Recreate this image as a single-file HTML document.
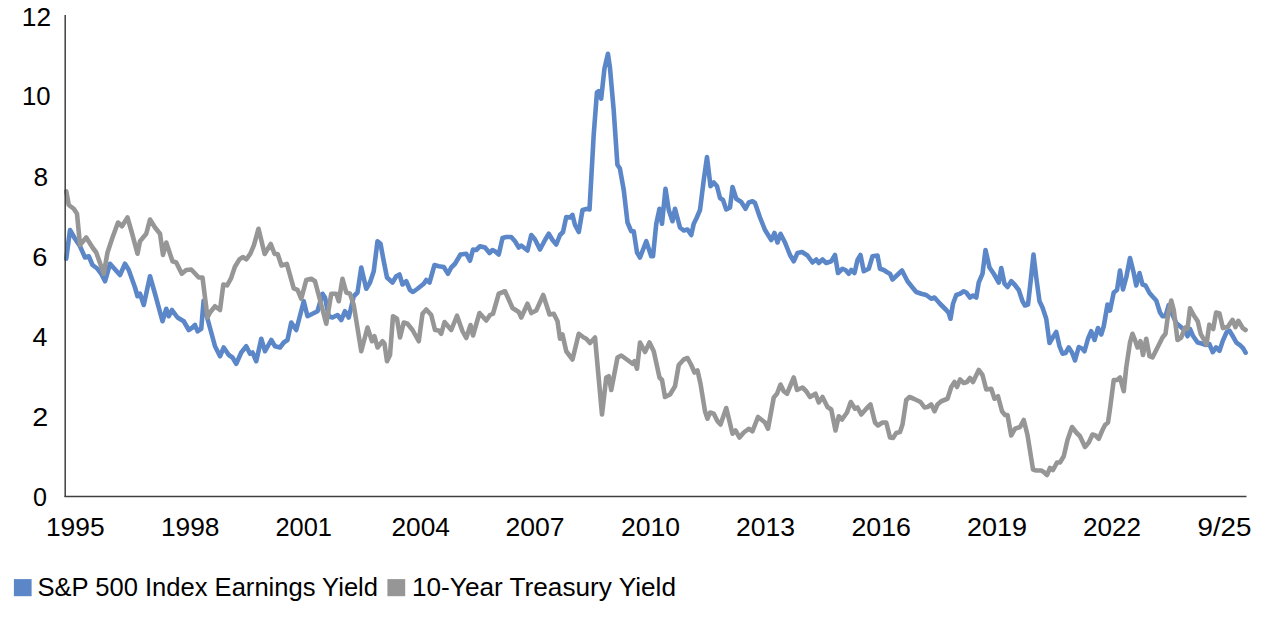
<!DOCTYPE html>
<html><head><meta charset="utf-8"><style>
html,body{margin:0;padding:0;background:#fff;}
svg{display:block;}
text{font-family:"Liberation Sans",sans-serif;font-size:25px;fill:#000;}
</style></head><body>
<svg width="1280" height="621" viewBox="0 0 1280 621">
<rect width="1280" height="621" fill="#fff"/>
<text x="21.87" y="25.50" textLength="29.24" lengthAdjust="spacingAndGlyphs">12</text><text x="21.94" y="105.00" textLength="28.58" lengthAdjust="spacingAndGlyphs">10</text><text x="33.46" y="185.50" textLength="14.58" lengthAdjust="spacingAndGlyphs">8</text><text x="32.39" y="265.50" textLength="15.16" lengthAdjust="spacingAndGlyphs">6</text><text x="32.54" y="345.50" textLength="14.93" lengthAdjust="spacingAndGlyphs">4</text><text x="32.23" y="426.00" textLength="16.01" lengthAdjust="spacingAndGlyphs">2</text><text x="33.00" y="506.00" textLength="13.99" lengthAdjust="spacingAndGlyphs">0</text><text x="45.94" y="536.00" textLength="58.60" lengthAdjust="spacingAndGlyphs">1995</text><text x="160.95" y="536.00" textLength="58.58" lengthAdjust="spacingAndGlyphs">1998</text><text x="275.48" y="536.00" textLength="56.55" lengthAdjust="spacingAndGlyphs">2001</text><text x="391.50" y="536.00" textLength="58.51" lengthAdjust="spacingAndGlyphs">2004</text><text x="505.47" y="536.00" textLength="59.05" lengthAdjust="spacingAndGlyphs">2007</text><text x="620.99" y="536.00" textLength="59.03" lengthAdjust="spacingAndGlyphs">2010</text><text x="735.98" y="536.00" textLength="59.03" lengthAdjust="spacingAndGlyphs">2013</text><text x="851.46" y="536.00" textLength="59.57" lengthAdjust="spacingAndGlyphs">2016</text><text x="966.97" y="536.00" textLength="60.07" lengthAdjust="spacingAndGlyphs">2019</text><text x="1082.99" y="536.00" textLength="58.03" lengthAdjust="spacingAndGlyphs">2022</text><text x="1197.45" y="536.00" textLength="54.08" lengthAdjust="spacingAndGlyphs">9/25</text><text x="37.49" y="596.00" textLength="340.51" lengthAdjust="spacingAndGlyphs">S&amp;P 500 Index Earnings Yield</text><text x="411.99" y="596.00" textLength="264.02" lengthAdjust="spacingAndGlyphs">10-Year Treasury Yield</text>
<path d="M66.25,258.75 L70.00,230.00 L75.00,238.75 L80.00,246.25 L85.00,257.50 L88.75,256.25 L92.50,265.00 L97.50,268.75 L101.25,273.75 L105.00,281.25 L110.00,263.75 L120.00,275.00 L125.00,263.75 L128.75,270.00 L135.00,287.50 L137.50,296.25 L140.00,293.75 L143.75,305.00 L150.00,276.25 L155.00,293.75 L162.50,321.25 L166.25,308.75 L168.75,316.25 L172.00,310.00 L177.50,317.50 L183.75,321.25 L188.75,330.00 L192.50,327.50 L195.00,325.00 L197.50,331.25 L201.25,328.75 L203.60,300.80 L207.50,318.75 L211.25,332.50 L215.00,346.25 L220.00,356.25 L223.75,347.50 L228.75,355.00 L232.50,357.50 L236.25,363.75 L241.25,352.50 L246.25,346.25 L250.00,353.75 L252.50,352.50 L256.25,361.25 L261.25,338.75 L265.00,351.25 L271.25,340.00 L275.00,346.25 L280.00,347.50 L283.75,342.50 L287.50,340.00 L291.25,322.50 L296.25,330.00 L303.75,301.25 L307.50,316.25 L312.50,313.75 L317.50,311.25 L322.50,293.75 L325.00,297.50 L328.75,316.25 L332.50,317.50 L337.50,315.00 L341.25,320.00 L345.00,311.25 L348.75,317.50 L353.75,296.25 L357.50,292.50 L361.25,267.50 L366.25,288.75 L370.00,282.50 L373.75,271.25 L377.50,241.25 L380.50,243.75 L383.75,261.25 L387.00,277.50 L392.50,282.50 L396.25,276.25 L399.50,274.50 L402.50,284.50 L406.25,281.25 L410.00,290.00 L413.00,292.00 L417.50,288.75 L423.75,283.75 L426.25,280.00 L429.50,282.50 L434.50,265.00 L438.75,266.25 L443.75,267.00 L448.00,273.75 L451.25,267.50 L455.00,263.75 L460.50,254.50 L466.25,253.75 L470.00,260.75 L473.00,249.50 L476.25,250.00 L480.00,246.25 L485.00,247.50 L489.50,253.00 L492.50,250.00 L495.00,251.25 L498.75,254.50 L502.50,238.00 L506.25,237.00 L511.25,237.00 L515.00,241.25 L518.75,247.50 L521.25,245.50 L527.50,250.50 L531.25,235.00 L535.00,239.50 L540.00,249.50 L545.00,240.00 L548.75,233.75 L552.50,240.00 L556.25,244.50 L560.00,235.00 L563.00,232.00 L566.25,217.00 L570.00,217.50 L572.50,215.00 L575.00,225.00 L578.75,232.00 L582.50,210.00 L587.50,208.75 L589.50,209.50 L593.70,134.86 L596.94,92.42 L598.69,91.17 L601.19,98.66 L604.43,68.71 L607.93,53.73 L609.93,67.46 L613.67,109.90 L617.41,164.81 L619.91,168.56 L623.75,190.00 L627.50,222.50 L631.25,231.25 L633.75,231.25 L637.00,252.50 L640.00,257.50 L646.25,241.25 L651.25,256.25 L653.00,256.25 L656.25,223.75 L659.50,208.75 L662.00,223.75 L665.50,188.75 L668.75,210.00 L672.50,221.25 L675.00,208.75 L680.00,227.50 L683.75,230.50 L687.50,229.50 L687.50,229.50 L691.25,235.00 L693.75,223.75 L696.25,218.75 L700.00,210.00 L703.75,180.00 L707.00,157.00 L710.50,186.25 L713.75,182.50 L717.00,186.25 L720.00,198.00 L723.00,200.00 L726.25,209.50 L730.00,207.50 L732.50,187.00 L736.25,198.75 L741.25,202.00 L745.50,208.75 L748.75,202.50 L752.50,201.25 L755.00,203.00 L760.00,217.50 L765.00,230.00 L771.25,240.00 L774.50,233.00 L777.50,242.50 L780.50,233.75 L785.00,242.50 L790.00,255.00 L793.75,261.25 L797.50,253.00 L802.00,252.00 L807.50,255.50 L812.50,262.50 L816.25,259.50 L818.75,263.00 L822.50,259.50 L826.25,263.00 L831.25,261.25 L835.00,255.00 L838.00,273.00 L842.50,268.75 L845.50,270.00 L848.75,273.75 L851.25,270.00 L854.50,273.00 L857.50,260.00 L860.50,255.00 L863.75,271.25 L868.75,268.75 L872.50,256.25 L877.50,255.50 L880.00,268.75 L883.75,270.00 L887.50,272.50 L890.00,273.75 L892.50,279.50 L902.00,270.50 L907.50,281.25 L912.50,287.50 L916.25,292.00 L921.25,293.75 L926.25,295.00 L931.25,298.75 L934.50,297.50 L940.00,303.75 L946.25,310.00 L948.75,313.00 L950.50,318.75 L953.00,303.75 L956.25,295.00 L960.00,293.75 L963.75,291.25 L966.25,292.50 L970.00,297.50 L973.00,295.50 L976.25,297.50 L978.75,282.50 L982.50,273.75 L985.50,250.00 L989.50,267.50 L993.75,273.75 L998.75,282.50 L1001.25,268.00 L1004.50,283.75 L1007.50,287.00 L1011.25,281.25 L1014.50,284.50 L1018.75,290.00 L1022.50,301.25 L1025.00,305.50 L1028.00,304.50 L1030.50,282.50 L1033.50,254.50 L1036.25,277.50 L1039.50,301.25 L1042.50,307.50 L1046.25,318.75 L1049.50,343.00 L1053.00,337.00 L1056.25,332.00 L1059.50,346.25 L1062.50,353.75 L1065.50,353.00 L1068.75,347.50 L1072.00,352.50 L1075.00,360.50 L1078.75,347.00 L1082.50,348.75 L1084.50,351.25 L1088.00,338.75 L1091.25,331.25 L1094.50,340.00 L1098.00,328.00 L1101.25,334.50 L1103.75,326.25 L1107.50,304.50 L1110.00,310.50 L1113.75,292.50 L1117.00,290.00 L1120.00,270.50 L1123.00,289.50 L1126.25,277.50 L1130.00,258.00 L1133.75,273.00 L1136.25,285.50 L1139.50,273.00 L1142.50,284.50 L1145.50,285.50 L1149.50,293.00 L1153.00,297.00 L1156.25,300.50 L1160.00,312.50 L1162.50,316.25 L1165.50,316.25 L1168.75,305.00 L1172.00,313.75 L1176.25,323.00 L1180.00,326.25 L1183.75,329.50 L1187.50,336.25 L1190.00,329.01 L1192.90,335.78 L1197.74,342.55 L1201.61,343.52 L1205.47,344.97 L1209.34,344.00 L1212.73,352.22 L1216.11,347.39 L1219.50,350.77 L1222.88,340.62 L1226.75,331.91 L1229.65,330.95 L1232.55,335.78 L1236.42,342.55 L1240.29,345.45 L1243.19,348.36 L1245.61,352.71" fill="none" stroke="#5B87C9" stroke-width="4.6" stroke-linejoin="round" stroke-linecap="round"/>
<path d="M66.25,191.25 L68.75,205.00 L73.75,208.75 L77.00,213.75 L80.00,245.00 L86.25,237.50 L92.50,247.50 L96.25,252.50 L103.75,273.75 L107.50,252.50 L112.50,237.50 L118.00,222.50 L122.00,226.25 L127.50,217.50 L132.50,235.00 L137.50,253.75 L140.00,241.25 L146.25,233.75 L150.00,219.50 L155.00,227.50 L160.00,233.75 L163.00,255.00 L166.25,242.50 L172.50,261.25 L176.25,262.50 L181.75,273.75 L186.25,270.00 L191.25,269.50 L198.75,277.50 L202.50,277.50 L207.50,317.50 L210.00,312.50 L215.00,306.25 L220.00,310.00 L223.32,284.60 L227.14,285.36 L230.97,278.47 L234.80,266.99 L239.39,259.34 L242.76,257.04 L246.28,259.34 L250.41,253.68 L253.93,245.10 L258.52,228.73 L264.65,253.98 L270.77,244.03 L274.60,253.98 L277.66,253.98 L281.48,265.46 L286.84,263.93 L293.73,288.42 L297.56,289.95 L301.25,298.75 L306.25,280.00 L311.25,278.75 L315.00,281.25 L320.00,300.00 L326.25,323.75 L331.25,293.75 L336.25,293.75 L338.75,301.25 L342.50,278.75 L346.25,292.50 L350.00,293.75 L353.75,305.00 L361.25,351.25 L367.50,327.50 L372.00,341.25 L374.50,336.25 L377.50,347.50 L382.50,341.25 L384.50,343.75 L387.00,361.25 L390.00,355.00 L393.00,316.25 L397.00,318.75 L400.00,337.50 L403.75,322.50 L407.50,323.75 L412.50,330.00 L418.75,341.25 L422.50,313.75 L426.25,309.50 L431.25,315.00 L435.00,330.00 L438.75,330.50 L441.25,333.75 L444.50,322.00 L451.25,330.00 L457.00,315.75 L462.50,331.25 L466.25,338.00 L470.50,325.00 L473.00,335.50 L479.50,313.00 L486.25,320.50 L490.00,315.00 L493.00,313.75 L498.75,293.75 L505.00,291.25 L512.50,308.00 L518.75,312.00 L521.25,317.50 L527.50,303.75 L531.25,313.00 L536.25,310.50 L543.25,295.00 L549.50,314.50 L553.75,313.75 L557.50,321.25 L560.00,338.75 L562.50,334.50 L566.25,351.25 L572.50,359.50 L578.75,333.75 L583.75,337.50 L586.25,338.75 L590.00,343.00 L595.00,337.50 L602.00,414.50 L606.25,377.50 L608.75,376.25 L611.25,390.00 L617.50,357.50 L621.25,355.50 L627.50,360.00 L632.50,363.75 L634.50,361.25 L637.00,368.75 L640.00,342.50 L645.00,352.00 L649.50,342.50 L653.75,351.25 L659.50,377.50 L662.00,380.00 L665.00,397.00 L670.00,394.50 L675.00,386.25 L678.75,365.00 L683.75,359.50 L687.50,358.00 L691.25,365.00 L694.50,372.50 L697.50,370.50 L700.50,383.75 L705.00,411.25 L707.50,418.75 L710.00,412.50 L713.75,413.75 L717.50,421.25 L720.50,424.50 L726.25,408.00 L732.50,433.75 L735.50,430.50 L739.50,437.50 L743.75,432.50 L748.75,428.75 L752.50,431.25 L758.00,417.00 L762.50,420.50 L765.00,422.50 L768.00,428.75 L773.75,397.50 L777.00,393.75 L780.50,384.50 L783.75,391.25 L787.00,393.75 L793.75,377.50 L797.00,390.00 L802.50,387.50 L806.25,391.25 L810.00,397.00 L815.50,393.75 L818.75,402.50 L822.50,397.00 L827.50,407.00 L831.25,409.50 L835.50,430.50 L838.75,416.25 L842.00,419.50 L847.00,412.50 L850.75,402.00 L855.00,408.75 L857.50,407.50 L861.25,414.50 L866.25,408.75 L870.50,404.50 L875.00,422.50 L878.00,425.50 L882.50,422.50 L886.25,422.50 L890.00,437.50 L893.00,438.00 L896.25,433.00 L900.00,432.00 L902.50,424.50 L906.25,400.00 L909.50,397.00 L913.75,398.75 L917.50,400.50 L920.50,402.00 L924.50,407.50 L927.50,407.00 L931.25,404.50 L934.50,411.25 L937.50,404.50 L941.25,401.25 L947.50,398.75 L951.25,387.00 L954.50,382.00 L957.00,387.00 L960.00,379.50 L963.75,383.00 L967.00,382.00 L970.00,378.00 L973.00,382.00 L978.75,370.00 L982.50,375.00 L986.25,389.50 L991.25,388.75 L994.50,398.75 L997.00,397.00 L998.00,396.25 L1002.00,411.25 L1005.00,415.00 L1007.50,415.00 L1011.25,435.50 L1015.00,428.75 L1020.00,427.00 L1023.75,420.00 L1027.50,435.00 L1033.00,469.50 L1036.25,470.50 L1041.25,470.50 L1043.75,472.00 L1047.00,475.00 L1050.00,468.00 L1053.00,470.00 L1057.00,462.50 L1060.00,462.50 L1063.75,456.25 L1067.50,440.00 L1072.00,427.00 L1076.25,432.50 L1080.00,436.25 L1085.00,447.00 L1088.75,442.50 L1092.50,434.50 L1095.50,435.50 L1098.75,438.75 L1102.50,430.00 L1105.00,425.00 L1108.00,422.50 L1110.00,408.75 L1113.75,380.00 L1117.00,380.00 L1120.00,377.50 L1123.75,391.25 L1126.25,367.50 L1130.00,342.50 L1132.50,333.75 L1135.00,340.00 L1137.50,347.50 L1140.50,341.25 L1143.00,355.00 L1146.25,338.75 L1149.50,356.25 L1152.50,357.50 L1157.50,347.50 L1162.50,337.50 L1165.50,333.75 L1168.00,315.00 L1171.25,300.50 L1173.75,310.00 L1177.50,340.00 L1181.25,337.50 L1185.00,327.50 L1187.50,328.75 L1190.00,308.22 L1193.87,315.47 L1197.74,321.28 L1200.64,333.85 L1204.51,340.62 L1206.44,344.49 L1209.34,324.66 L1213.21,329.01 L1216.11,312.57 L1219.50,313.54 L1222.88,328.05 L1227.72,327.08 L1232.55,319.83 L1235.45,327.08 L1238.36,320.79 L1242.71,328.05 L1245.61,329.98" fill="none" stroke="#969696" stroke-width="4.6" stroke-linejoin="round" stroke-linecap="round"/>
<line x1="65.2" y1="15" x2="65.2" y2="497" stroke="#404040" stroke-width="1.5"/>
<line x1="64.5" y1="496.5" x2="1246.5" y2="496.5" stroke="#404040" stroke-width="1.5"/>
<rect x="13.9" y="579.1" width="17.7" height="17.1" fill="#5B87C9"/>
<rect x="387.4" y="579.1" width="17.8" height="17.1" fill="#969696"/>
</svg>
</body></html>
